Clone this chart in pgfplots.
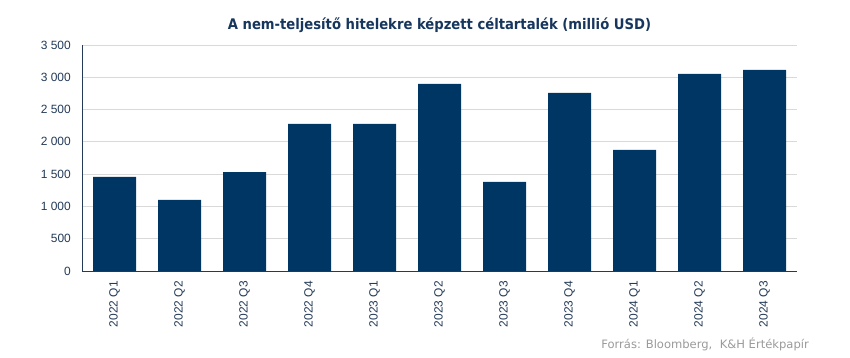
\documentclass[border=0pt]{standalone}
\usepackage{pgfplots}
\pgfplotsset{compat=1.18}
\usepackage{fontspec}
\setmainfont{Liberation Sans}
\newfontfamily\titlefont{DejaVu Sans Condensed}
\newfontfamily\srcfont{DejaVu Sans}
\definecolor{barblue}{HTML}{003664}
\definecolor{titleblue}{HTML}{17365D}
\definecolor{tickblue}{HTML}{233A58}
\definecolor{gridgray}{HTML}{D9D9D9}
\definecolor{srcgray}{HTML}{9A9A9A}
\begin{document}
\begin{tikzpicture}[x=1bp,y=1bp]
\path[use as bounding box] (0,0) rectangle (850,357);
\begin{axis}[
  at={(82bp,86bp)}, anchor=south west,
  scale only axis, width=715bp, height=226bp,
  xmin=-0.5, xmax=10.5, ymin=0, ymax=3500,
  ytick={0,500,...,3500},
  xtick=data,
  xticklabels={2022 Q1,2022 Q2,2022 Q3,2022 Q4,2023 Q1,2023 Q2,2023 Q3,2023 Q4,2024 Q1,2024 Q2,2024 Q3},
  axis x line*=bottom, axis y line*=left,
  axis line style={tickblue, line width=0.8pt, -},
  major tick length=0pt,
  ymajorgrids, grid style={gridgray, line width=0.8pt},
  /pgf/number format/assume math mode=true,
  /pgf/number format/1000 sep={\ },
  ticklabel style={font=\fontsize{12}{14}\selectfont, text=tickblue},
  yticklabel style={inner sep=0pt, xshift=-11bp},
  xticklabel style={rotate=90, anchor=east, inner sep=0pt, xshift=-10bp},
  clip=false,
]
\addplot[ybar, bar width=43bp, fill=barblue, draw=none] coordinates {
  (0,1456) (1,1100) (2,1533) (3,2277) (4,2277) (5,2897)
  (6,1379) (7,2757) (8,1874) (9,3052) (10,3114)
};
\end{axis}
\node[text=titleblue, font=\titlefont\bfseries\fontsize{14.7}{17}\selectfont] at (439.5,332) {A nem-teljesítő hitelekre képzett céltartalék (millió USD)};
\node[text=srcgray, anchor=east, inner sep=0pt, font=\srcfont\fontsize{11.6}{13}\selectfont] at (809,13) {Forrás: Bloomberg,\ \ K\&H Értékpapír};
\end{tikzpicture}
\end{document}
